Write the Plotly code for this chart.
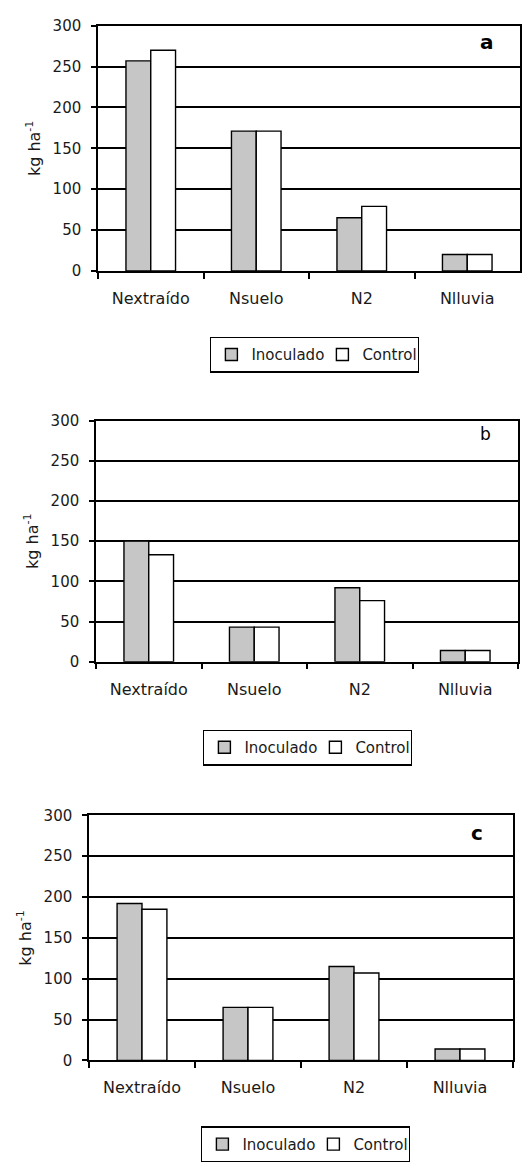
import plotly.graph_objects as go

# Nitrogen balance components (kg ha-1) for three sites
categories = ["Nextraído", "Nsuelo", "N2", "Nlluvia"]

inoculado_a = [257, 171, 65, 20]
control_a = [270, 171, 79, 20]

inoculado_b = [150, 43, 92, 14]
control_b = [133, 43, 76, 14]

inoculado_c = [192, 65, 115, 14]
control_c = [185, 65, 107, 14]

panel_letters = ["a", "b", "c"]
y_ticks = [0, 50, 100, 150, 200, 250, 300]

W, H = 522, 1163
FONT = "DejaVu Sans"
GRAY = "#c6c6c6"


def fx(px):
    return px / W


def fy(py):
    return 1 - py / H


# plot-area rectangles in pixels: left, right, top, bottom
panels = [
    dict(l=98, r=520, t=17, b=266, leg=(210, 333), letter=(487, 34), bold=True, lsize=20),
    dict(l=96, r=518, t=418, b=663, leg=(203, 732), letter=(485, 432), bold=False, lsize=17),
    dict(l=89, r=513, t=819, b=1068, leg=(201, 1135), letter=(477, 837), bold=True, lsize=20),
]
series = [
    (inoculado_a, control_a),
    (inoculado_b, control_b),
    (inoculado_c, control_c),
]

fig = go.Figure()
layout = dict(
    width=W,
    height=H,
    margin=dict(l=0, r=0, t=0, b=0),
    paper_bgcolor="white",
    plot_bgcolor="white",
    barmode="group",
    bargap=0.53,
    bargroupgap=0,
    font=dict(family=FONT, size=15, color="#1a1a1a"),
    annotations=[],
)

for i, (p, (inoc, ctrl)) in enumerate(zip(panels, series)):
    n = "" if i == 0 else str(i + 1)
    xa, ya, lg = "x" + n, "y" + n, "legend" + n
    fig.add_trace(go.Bar(
        x=categories, y=inoc, name="Inoculado",
        marker=dict(color=GRAY, line=dict(color="black", width=1.4)),
        xaxis=xa, yaxis=ya, legend=lg, legendwidth=66,
    ))
    fig.add_trace(go.Bar(
        x=categories, y=ctrl, name="Control",
        marker=dict(color="white", line=dict(color="black", width=1.4)),
        xaxis=xa, yaxis=ya, legend=lg, legendwidth=50,
    ))
    layout["xaxis" + n] = dict(
        domain=[fx(p["l"]), fx(p["r"])],
        anchor=ya,
        showline=True, linecolor="black", linewidth=1.5, mirror=True,
        ticks="outside", tickson="boundaries", ticklen=6, tickcolor="black", tickwidth=1.5,
        ticklabelstandoff=12,
        showgrid=False,
        tickfont=dict(family=FONT, size=16),
        fixedrange=True,
    )
    layout["yaxis" + n] = dict(
        domain=[fy(p["b"]), fy(p["t"])],
        anchor=xa,
        range=[0, 300],
        tickvals=y_ticks,
        showline=True, linecolor="black", linewidth=1.5, mirror=True,
        ticks="outside", ticklen=5, tickcolor="black", tickwidth=1.5,
        ticklabelstandoff=7,
        showgrid=True, gridcolor="black", gridwidth=1.5,
        zeroline=False,
        tickfont=dict(family=FONT, size=15),
        title=dict(text="kg ha<sup>-1</sup>", font=dict(family=FONT, size=16), standoff=8),
        fixedrange=True,
    )
    layout[lg] = dict(
        orientation="h",
        x=fx(p["leg"][0]), y=fy(p["leg"][1]),
        xanchor="left", yanchor="top",
        bordercolor="black", borderwidth=1.4,
        bgcolor="white",
        font=dict(family=FONT, size=15),
        itemwidth=30,
        traceorder="normal",
    )
    letter = panel_letters[i]
    layout["annotations"].append(dict(
        text=f"<b>{letter}</b>" if p["bold"] else letter,
        x=fx(p["letter"][0]), y=fy(p["letter"][1]),
        xref="paper", yref="paper",
        xanchor="center", yanchor="middle",
        showarrow=False,
        font=dict(family=FONT, size=p["lsize"], color="black"),
    ))

fig.update_layout(**layout)
fig.write_html("out.html")
